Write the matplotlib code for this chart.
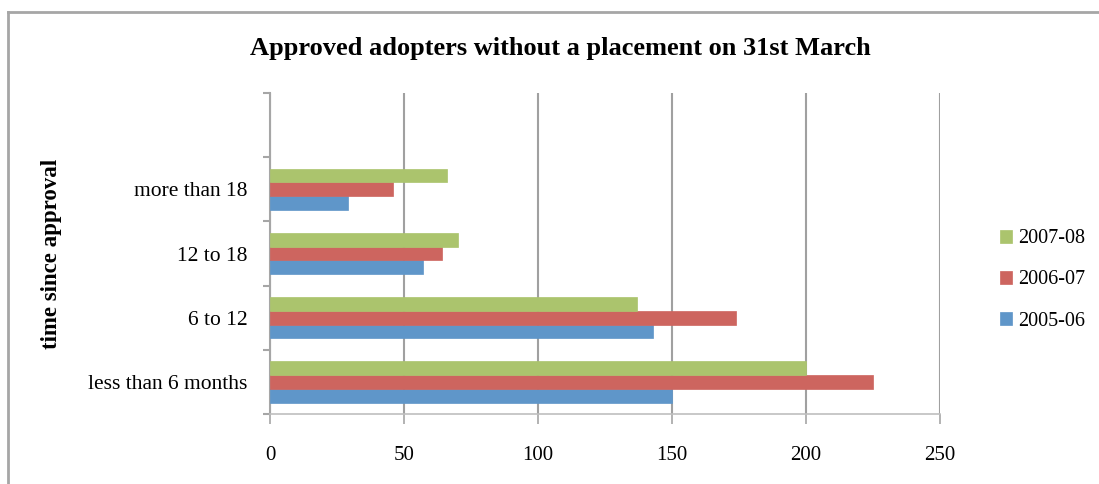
import numpy as np
import matplotlib
matplotlib.use("Agg")
import matplotlib.pyplot as plt
from matplotlib.lines import Line2D

# data
categories = ["less than 6 months", "6 to 12", "12 to 18", "more than 18", ""]
years = ["2005-06", "2006-07", "2007-08"]
v_2005_06 = [150, 143, 57, 29, np.nan]
v_2006_07 = [225, 174, 64, 46, np.nan]
v_2007_08 = [200, 137, 70, 66, np.nan]
xticks = [0, 50, 100, 150, 200, 250]

colors = ["#5F96C9", "#CD655F", "#ABC46D"]
series = [v_2005_06, v_2006_07, v_2007_08]

plt.rcParams['font.family'] = ['Liberation Serif', 'DejaVu Serif']

W, H = 1099, 484
fig = plt.figure(figsize=(10.99, 4.84), dpi=100)
ax = fig.add_axes([270/W, 1 - 414/H, 670/W, 321/H])

# outer chart frame (only top and left edges are visible in the crop)
frame = "#A6A6A6"
fig.lines.append(Line2D([8/W, 1], [1 - 12/H, 1 - 12/H], transform=fig.transFigure,
                        color=frame, linewidth=2))
fig.lines.append(Line2D([8/W, 8/W], [0, 1 - 12/H], transform=fig.transFigure,
                        color=frame, linewidth=2))

y = np.arange(len(categories))
h = 0.215
bars = []
for i, (vals, c) in enumerate(zip(series, colors)):
    b = ax.barh(y + (i - 1) * h, vals, height=h, color=c, edgecolor=c, linewidth=0.5,
                label=years[i], zorder=3)
    bars.append(b)

ax.set_xlim(0, 250)
ax.set_ylim(-0.5, len(categories) - 0.5)
ax.set_xticks(xticks)
ax.set_xticklabels([str(t) for t in xticks], fontsize=15)
ax.set_yticks(y)
ax.set_yticklabels(categories, fontsize=15.5)
ax.set_yticks(np.arange(-0.5, len(categories)), minor=True)
ax.tick_params(axis='y', which='major', length=0, pad=16)
ax.tick_params(axis='y', which='minor', length=5, color=frame, width=1.5)
ax.tick_params(axis='x', length=7, color=frame, width=1.2, pad=16)

ax.grid(axis='x', color="#A0A0A0", linewidth=1.5, zorder=0)
for s in ["top", "right"]:
    ax.spines[s].set_visible(False)
ax.spines["left"].set_color(frame)
ax.spines["left"].set_linewidth(1.5)
ax.spines["bottom"].set_color("#BFBFBF")
ax.spines["bottom"].set_linewidth(1.2)

ax.set_ylabel("time since approval", fontsize=16.5, fontweight="bold", labelpad=0)
ax.yaxis.set_label_coords(-0.31, 0.5)

fig.text(560/W, 1 - 48/H, "Approved adopters without a placement on 31st March",
         fontsize=19, fontweight="bold", ha="center", va="center")

handles = [bars[2], bars[1], bars[0]]
fig.legend(handles, ["2007-08", "2006-07", "2005-06"], loc="center left",
           bbox_to_anchor=(990/W, 1 - 280/H), frameon=False, fontsize=14.5, borderpad=0,
           handlelength=0.6, handleheight=0.6, labelspacing=1.1, handletextpad=0.3)

fig.savefig("out.png", dpi=100)
